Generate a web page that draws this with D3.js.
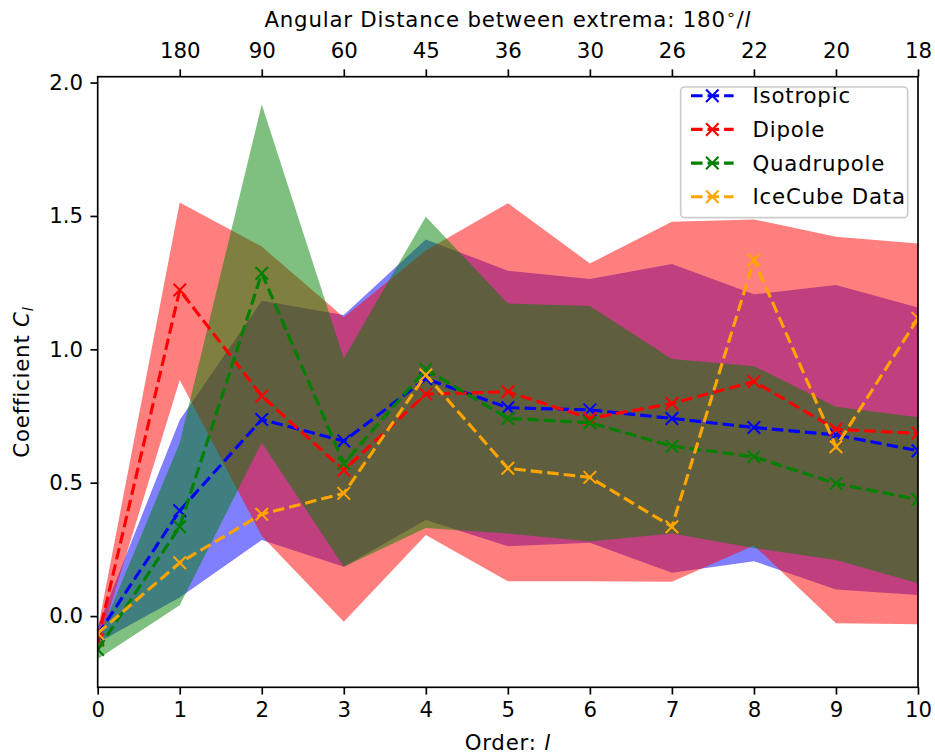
<!DOCTYPE html>
<html><head><meta charset="utf-8">
<script src="https://cdn.jsdelivr.net/npm/d3@7"></script>
<style>
body{margin:0;background:#fff}
svg{display:block}
text{font-family:"DejaVu Sans",sans-serif;fill:#000}
</style>
</head><body>
<svg id="c" width="935" height="755"></svg>
<script>
// ---- data ----
const orders = [0,1,2,3,4,5,6,7,8,9,10];
const topTickOrders = [1,2,3,4,5,6,7,8,9,10];
const topTickLabels = ["180","90","60","45","36","30","26","22","20","18"];
const yTicks = [0.0,0.5,1.0,1.5,2.0];

const isoMean  = [-0.07, 0.395, 0.737, 0.656, 0.89, 0.781, 0.773, 0.741, 0.707, 0.679, 0.62];
const isoUpper = [-0.04, 0.735, 1.182, 1.129, 1.412, 1.295, 1.264, 1.32, 1.206, 1.241, 1.157];
const isoLower = [-0.10, 0.07, 0.285, 0.185, 0.36, 0.262, 0.275, 0.162, 0.206, 0.10, 0.079];

const dipMean  = [-0.09, 1.222, 0.825, 0.547, 0.832, 0.841, 0.741, 0.797, 0.879, 0.70, 0.685];
const dipUpper = [-0.05, 1.55, 1.385, 1.12, 1.37, 1.548, 1.322, 1.478, 1.487, 1.422, 1.397];
const dipLower = [-0.12, 0.885, 0.30, -0.021, 0.304, 0.131, 0.131, 0.129, 0.265, -0.027, -0.031];

const quadMean  = [-0.125, 0.335, 1.285, 0.572, 0.925, 0.741, 0.725, 0.637, 0.597, 0.497, 0.437];
const quadUpper = [-0.09, 0.65, 1.918, 0.966, 1.497, 1.172, 1.162, 0.964, 0.937, 0.785, 0.745];
const quadLower = [-0.161, 0.041, 0.65, 0.185, 0.33, 0.31, 0.28, 0.31, 0.255, 0.21, 0.123];

const iceData = [-0.065, 0.2, 0.382, 0.46, 0.904, 0.554, 0.52, 0.335, 1.335, 0.635, 1.116];

const seriesNames = ["Isotropic","Dipole","Quadrupole","IceCube Data"];
const seriesColors = ["blue","red","green","orange"];

// ---- layout ----
const FS = 21.3;
const LS = "0.8px";
const L = 97.7, R = 918, T = 76.7, B = 687.3;
const x = d3.scaleLinear().domain([0,10]).range([L,R]);
const y = d3.scaleLinear().domain([-0.267, 2.022]).range([B,T]);

const svg = d3.select("#c");
svg.append("defs").append("clipPath").attr("id","clip")
  .append("rect").attr("x",L).attr("y",T).attr("width",R-L).attr("height",B-T);

const plot = svg.append("g").attr("clip-path","url(#clip)");

// bands
const bands = [
  {lo: isoLower, hi: isoUpper, c: "blue"},
  {lo: dipLower, hi: dipUpper, c: "red"},
  {lo: quadLower, hi: quadUpper, c: "green"}
];
const area = d3.area().x(d=>x(d.l)).y0(d=>y(d.lo)).y1(d=>y(d.hi));
bands.forEach(b=>{
  const data = orders.map((l,i)=>({l, lo:b.lo[i], hi:b.hi[i]}));
  plot.append("path").datum(data).attr("d",area)
    .attr("fill",b.c).attr("fill-opacity",0.5).attr("stroke","none");
});

// lines
const lw = 3.125;
const dash = "11.56,5";
const line = d3.line().x(d=>x(d.l)).y(d=>y(d.v));
const xMark = "M-6.25,-6.25L6.25,6.25M-6.25,6.25L6.25,-6.25";
const allMeans = [isoMean, dipMean, quadMean, iceData];
allMeans.forEach((vals,si)=>{
  const data = orders.map((l,i)=>({l, v:vals[i]}));
  plot.append("path").datum(data).attr("d",line)
    .attr("fill","none").attr("stroke",seriesColors[si])
    .attr("stroke-width",lw).attr("stroke-dasharray",dash);
  plot.selectAll(null).data(data).enter().append("path")
    .attr("d",xMark).attr("transform",d=>`translate(${x(d.l)},${y(d.v)})`)
    .attr("stroke",seriesColors[si]).attr("stroke-width",2.08).attr("fill","none");
});

// axes
const tickLen = 7.3, tickPad = 7.3, axW = 1.67;
const gB = svg.append("g").attr("transform",`translate(0,${B})`)
  .call(d3.axisBottom(x).tickValues(orders).tickFormat(d3.format("d")).tickSize(tickLen).tickSizeOuter(0).tickPadding(tickPad));
const gT = svg.append("g").attr("transform",`translate(0,${T})`)
  .call(d3.axisTop(x).tickValues(topTickOrders).tickFormat((d,i)=>topTickLabels[i]).tickSize(tickLen).tickSizeOuter(0).tickPadding(tickPad+4.5));
const gL = svg.append("g").attr("transform",`translate(${L},0)`)
  .call(d3.axisLeft(y).tickValues(yTicks).tickFormat(d3.format(".1f")).tickSize(tickLen).tickSizeOuter(0).tickPadding(tickPad));
[gB,gT,gL].forEach(g=>{
  g.select(".domain").remove();
  g.selectAll(".tick line").attr("stroke","#000").attr("stroke-width",axW);
  g.selectAll(".tick text").attr("font-size",FS).attr("font-family","DejaVu Sans").attr("fill","#000");
});
svg.append("rect").attr("x",L).attr("y",T).attr("width",R-L).attr("height",B-T)
  .attr("fill","none").attr("stroke","#000").attr("stroke-width",axW);

// axis labels
const tl = svg.append("text").attr("x",(L+R)/2).attr("y",27).attr("text-anchor","middle")
  .attr("font-size",FS).attr("letter-spacing",LS);
tl.append("tspan").text("Angular Distance between extrema: 180");
tl.append("tspan").attr("font-size",FS*0.75).attr("dy",-7).text("∘");
tl.append("tspan").attr("dy",7).text("/");
tl.append("tspan").attr("font-style","italic").text("l");

const bl = svg.append("text").attr("x",(L+R)/2).attr("y",750).attr("text-anchor","middle")
  .attr("font-size",FS).attr("letter-spacing",LS);
bl.append("tspan").text("Order: ");
bl.append("tspan").attr("font-style","italic").text("l");

const yl = svg.append("text").attr("transform",`translate(29,${(T+B)/2}) rotate(-90)`).attr("text-anchor","middle")
  .attr("font-size",FS).attr("letter-spacing",LS);
yl.append("tspan").text("Coefficient ");
yl.append("tspan").attr("font-style","italic").text("C");
yl.append("tspan").attr("font-style","italic").attr("font-size",FS*0.7).attr("dy",4).text("l");

// legend
const lg = svg.append("g");
lg.append("rect").attr("x",680.7).attr("y",87).attr("width",227).attr("height",130.7)
  .attr("rx",4).attr("fill","#fff").attr("fill-opacity",0.8)
  .attr("stroke","#cccccc").attr("stroke-width",1.67);
seriesNames.forEach((n,i)=>{
  const cy = 95.7 + i*33.7;
  lg.append("line").attr("x1",691).attr("x2",733.6).attr("y1",cy).attr("y2",cy)
    .attr("stroke",seriesColors[i]).attr("stroke-width",lw).attr("stroke-dasharray",dash);
  lg.append("path").attr("d",xMark).attr("transform",`translate(712.3,${cy})`)
    .attr("stroke",seriesColors[i]).attr("stroke-width",2.08).attr("fill","none");
  lg.append("text").attr("x",752.5).attr("y",cy).attr("dy","0.36em").attr("font-size",FS)
    .attr("letter-spacing",LS).text(n);
});
</script>
</body></html>
